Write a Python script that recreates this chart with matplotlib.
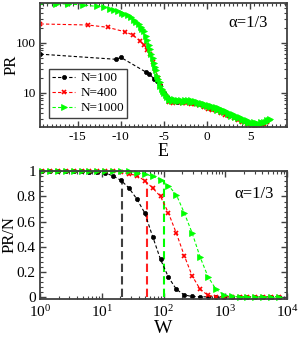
import matplotlib
matplotlib.use("Agg")
import matplotlib.pyplot as plt
from matplotlib.ticker import MultipleLocator, LogLocator, NullFormatter, FixedLocator

plt.rcParams['font.family'] = ['Liberation Serif', 'DejaVu Serif']
plt.rcParams['mathtext.fontset'] = 'stix'
plt.rcParams['axes.unicode_minus'] = False

# ---------------- top panel data: PR vs E ----------------
E_100 = [-19.3, -10.5, -10.0, -7.1, -6.7, -6.1, -5.8, -5.4, -5.0, -4.5, -3.5, -2.5,
         -1.5, -0.5, 0.5, 1.5, 2.5, 3.5, 4.5, 5.5, 6.5]
PR_100 = [59, 46.5, 51, 26, 24, 18.5, 17, 14, 10, 7.8, 6.6, 6.7,
          6.3, 5.6, 5.0, 4.4, 3.6, 3.1, 2.6, 2.4, 2.5]

E_400 = [-19.3, -13.8, -11.5, -9.5, -8.6, -7.8, -7.3, -6.9, -6.6, -6.3, -6.0, -5.7,
         -5.4, -5.1, -4.8, -4.4, -3.9, -3.4, -2.9, -2.4, -1.9, -1.4, -0.9, -0.4,
         0.1, 0.6, 1.1, 1.6, 2.1, 2.6, 3.1, 3.6, 4.1, 4.6, 5.1, 5.6, 6.1, 6.6, 7.0]
PR_400 = [237, 226, 203, 165, 143, 110, 90, 71, 59, 42, 30, 20,
          13.5, 10.5, 8.5, 6.6, 6.3, 6.4, 6.2, 6.2, 6.0, 5.9, 5.6, 5.1,
          4.8, 4.6, 4.3, 3.9, 3.6, 3.35, 3.1, 2.8, 2.55, 2.4, 2.25, 2.2, 2.25, 2.4, 2.55]

E_1000 = [-19.3, -17.5, -16.1, -14.4, -12.7, -11.9, -11.2, -10.8, -10.3, -9.9, -9.6,
          -9.2, -8.8, -8.5, -8.2, -7.9, -7.7, -7.5, -7.3, -7.1, -6.9, -6.75, -6.6,
          -6.45, -6.3, -6.15, -6.0, -5.9, -5.77, -5.65, -5.5, -5.39, -5.25, -5.1,
          -4.95, -4.8,
          -4.6, -4.4, -4.2, -4.0, -3.8, -3.6, -3.4, -3.2, -3.0, -2.8, -2.6, -2.4,
          -2.2, -2.0, -1.8, -1.6, -1.4, -1.2, -1.0, -0.8, -0.6, -0.4, -0.2, 0.0,
          0.2, 0.4, 0.6, 0.8, 1.0, 1.2, 1.4, 1.6, 1.8, 2.0, 2.2, 2.4, 2.6, 2.8,
          3.0, 3.2, 3.4, 3.6, 3.8, 4.0, 4.2, 4.4, 4.6, 4.8, 5.0, 5.2, 5.4, 5.6,
          5.8, 6.0, 6.2, 6.4, 6.6, 6.8, 7.0, 7.2, 7.3]
PR_1000 = [615, 600, 594, 570, 530, 510, 480, 455, 430, 400, 378,
           350, 320, 290, 265, 240, 210, 190, 170, 135, 112, 92, 74,
           60, 49, 40, 33, 28, 22, 19, 16, 13.5, 12, 10.7,
           9.7, 9.0,
           8.2, 7.3, 7.6, 6.9, 7.4, 6.8, 7.3, 6.7, 7.2, 6.6, 7.3, 6.7,
           7.1, 6.5, 7.0, 6.4, 6.8, 6.1, 6.5, 5.9, 6.2, 5.6, 6.0, 5.4,
           5.7, 5.1, 5.5, 4.9, 5.2, 4.6, 4.9, 4.3, 4.6, 4.1, 4.3, 3.8, 4.0, 3.5,
           3.8, 3.3, 3.5, 3.1, 3.3, 2.9, 3.0, 2.7, 2.8, 2.5, 2.65, 2.4, 2.55, 2.35,
           2.5, 2.4, 2.55, 2.45, 2.65, 2.6, 2.85, 2.8, 3.0]

# ---------------- bottom panel data: PR/N vs W ----------------
W = [1.08, 1.45, 1.94, 2.61, 3.50, 4.70, 6.31, 8.47, 11.4, 15.3, 20.5, 27.5, 37.0,
     49.7, 66.7, 89.5, 120, 161, 217, 291, 391, 525, 705, 946, 1271, 1706, 2291,
     3076, 4130, 5546, 7447]
PRN_100 = [1.0, 1.0, 1.0, 1.0, 1.0, 1.0, 0.998, 0.995, 0.987, 0.963, 0.928, 0.868,
           0.78, 0.669, 0.482, 0.30, 0.16, 0.064, 0.018, 0.006, 0.004, 0.003, 0.003,
           0.003, 0.003, 0.003, 0.003, 0.003, 0.003, 0.003, 0.003]
PRN_400 = [1.0, 1.0, 1.0, 1.0, 1.0, 1.0, 1.0, 1.0, 1.0, 1.0, 0.995, 0.98,
           0.966, 0.926, 0.868, 0.80, 0.67, 0.51, 0.33, 0.17, 0.064, 0.015, 0.005,
           0.004, 0.004, 0.004, 0.004, 0.004, 0.004, 0.004, 0.004]
PRN_1000 = [1.0, 1.0, 1.0, 1.0, 1.0, 1.0, 1.0, 1.0, 1.0, 1.0, 1.0, 1.0,
            0.99, 0.98, 0.96, 0.934, 0.886, 0.815, 0.669, 0.51, 0.32, 0.164, 0.064,
            0.018, 0.006, 0.005, 0.005, 0.005, 0.005, 0.005, 0.005]
Wc = [21.5, 55, 100]
Wc_top = [0.92, 0.91, 0.93]

labels = ['N=100', 'N=400', 'N=1000']
colors = ['black', '#ff0000', '#00ff00']
vcolors = ['#404040', '#ff2020', '#00ff00']
markers = ['o', 'x', '>']
msizes = [3, 3.5, 5]

fig = plt.figure(figsize=(2.99, 3.37), dpi=100)
ax1 = fig.add_axes([0.1338, 0.6231, 0.8250, 0.3689])
ax2 = fig.add_axes([0.1338, 0.1142, 0.8261, 0.3775])

spine_c = '#404040'

def style(ax, size):
    for s in ax.spines.values():
        s.set_color(spine_c)
        s.set_linewidth(1.3)
    ax.tick_params(which='both', direction='in', top=True, right=True,
                   color=spine_c, labelsize=size, pad=3)
    ax.tick_params(which='major', length=4.5, width=1)
    ax.tick_params(which='minor', length=2.5, width=0.8)

# top panel
Es = [E_100, E_400, E_1000]
PRs = [PR_100, PR_400, PR_1000]
for e, p, c, m, ms, lab in zip(Es, PRs, colors, markers, msizes, labels):
    ax1.plot(e, p, ls=(0, (3, 2)), lw=0.8, color=c, marker=m, ms=ms,
             mew=1.2 if m == 'x' else 0.5, mec=c, mfc=c, label=lab)
ax1.set_yscale('log')
ax1.set_xlim(-19.35, 9.23)
ax1.set_ylim(2.06, 631)
ax1.xaxis.set_major_locator(MultipleLocator(5))
ax1.xaxis.set_minor_locator(MultipleLocator(0.5))
ax1.yaxis.set_major_locator(FixedLocator([10, 100]))
ax1.yaxis.set_minor_locator(LogLocator(base=10, subs=range(2, 10)))
ax1.yaxis.set_minor_formatter(NullFormatter())
ax1.set_yticklabels(['10', '100'])
style(ax1, 9.5)
ax1.set_xlabel('E', fontsize=13)
ax1.set_ylabel('PR', fontsize=12)
ax1.xaxis.set_label_coords(0.5, -0.13)
ax1.yaxis.set_label_coords(-0.083, 0.5)
ax1.text(0.845, 0.84, 'α=1/3', transform=ax1.transAxes, ha='center', va='center', fontsize=12)
leg = ax1.legend(loc='upper left', bbox_to_anchor=(0.036, 0.467), borderaxespad=0,
                 fontsize=9.5, handlelength=1.75, handletextpad=0.4, labelspacing=0.2,
                 borderpad=0.25, fancybox=False, framealpha=1, edgecolor='#404040')
leg.get_frame().set_linewidth(1.0)

# bottom panel
PRNs = [PRN_100, PRN_400, PRN_1000]
for wc, wt, vc in zip(Wc, Wc_top, vcolors):
    ax2.plot([wc, wc], [0, wt], ls=(0, (4, 2)), lw=1.5, color=vc)
for p, c, m, ms in zip(PRNs, colors, markers, msizes):
    ax2.plot(W, p, ls=(0, (3, 2)), lw=0.8, color=c, marker=m, ms=min(ms, 4.5),
             mew=1.2 if m == 'x' else 0.5, mec=c, mfc=c, clip_on=False)
ax2.set_xscale('log')
ax2.set_xlim(1, 1e4)
ax2.set_ylim(-0.01, 1.0)
ax2.xaxis.set_major_locator(LogLocator(base=10, numticks=10))
ax2.xaxis.set_minor_locator(LogLocator(base=10, subs=range(2, 10), numticks=20))
ax2.xaxis.set_minor_formatter(NullFormatter())
ax2.yaxis.set_major_locator(FixedLocator([0, 0.2, 0.4, 0.6, 0.8, 1.0]))
ax2.set_yticklabels(['0', '0.2', '0.4', '0.6', '0.8', '1'])
ax2.yaxis.set_minor_locator(MultipleLocator(0.04))
style(ax2, 11)
ax2.tick_params(axis='x', pad=4)
ax2.set_xlabel('W', fontsize=14)
ax2.set_ylabel('PR/N', fontsize=12)
ax2.xaxis.set_label_coords(0.5, -0.165)
ax2.yaxis.set_label_coords(-0.092, 0.5)
ax2.text(0.865, 0.82, 'α=1/3', transform=ax2.transAxes, ha='center', va='center', fontsize=12)

fig.savefig('out.png', dpi=100)
